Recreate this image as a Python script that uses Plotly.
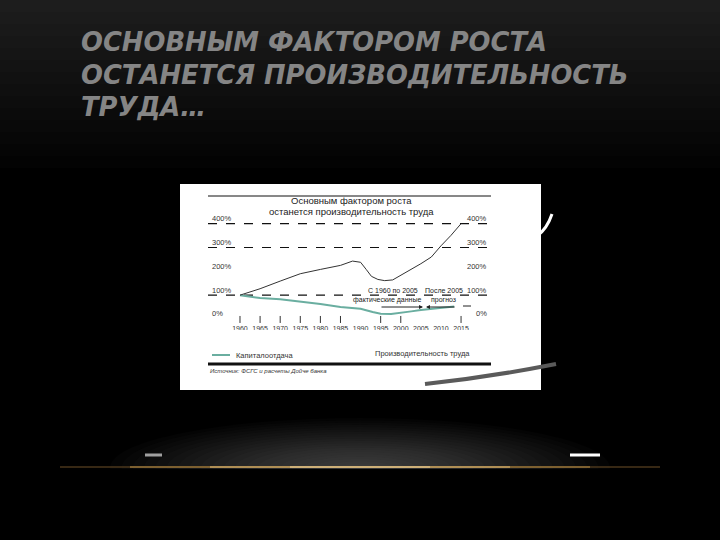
import plotly.graph_objects as go

# ---------------- data ----------------
slide_title = ["ОСНОВНЫМ ФАКТОРОМ РОСТА", "ОСТАНЕТСЯ ПРОИЗВОДИТЕЛЬНОСТЬ", "ТРУДА…"]
chart_title = ["Основным фактором роста", "останется производительность труда"]

year_labels = ["1960", "1965", "1970", "1975", "1980", "1985", "1990", "1995", "2000", "2005", "2010", "2015"]
tick_years = [1960, 1965, 1970, 1975, 1980, 1985, 1995, 2000, 2015]

prod_years = [1960, 1965, 1970, 1975, 1980, 1985, 1988, 1990, 1991.4, 1992.7, 1994.3, 1996, 1998,
              2000, 2002.6, 2005, 2007.6, 2010, 2012.5, 2015]
prod_vals = [100, 127, 159, 190, 208, 225, 243, 238, 208, 179, 166, 161, 164,
             183, 208, 232, 260, 307, 351, 400]

cap_years = [1960, 1965, 1970, 1975, 1980, 1985, 1990, 1993, 1995, 1997.6, 2000, 2002.6, 2005, 2010, 2013.3]
cap_vals = [100, 88, 83, 74, 63, 50, 43, 29, 22, 21, 25, 32, 38, 46, 52]

y_ticks = [400, 300, 200, 100, 0]
dashed_levels = [400, 300, 100]
series_names = ["Капиталоотдача", "Производительность труда"]
source_text = "Источник: ФСГС и расчеты Дойче банка"

# ---------------- geometry helpers ----------------
W, H = 720, 540
L, R, T, B = 208, 230, 215, 210
PW, PH = W - L - R, H - T - B


def px(x):
    return (x - L) / PW


def py(y):
    return (H - B - y) / PH


TEAL = "#6aaea0"
FONT = "Liberation Sans, Arial, sans-serif"

fig = go.Figure()

fig.add_trace(go.Scatter(x=cap_years, y=cap_vals, mode="lines", name=series_names[0],
                         line=dict(color=TEAL, width=2), showlegend=False))
fig.add_trace(go.Scatter(x=prod_years, y=prod_vals, mode="lines", name=series_names[1],
                         line=dict(color="#333333", width=1), showlegend=False))
# x tick marks
fig.add_trace(go.Scatter(x=tick_years, y=[-2] * len(tick_years), mode="markers",
                         marker=dict(symbol="line-ns", size=5, line=dict(color="#333", width=1)),
                         showlegend=False, hoverinfo="skip"))
# x tick labels
fig.add_trace(go.Scatter(x=[int(v) for v in year_labels], y=[-41] * len(year_labels), mode="text",
                         text=year_labels, textfont=dict(size=7, color="#333", family="Liberation Sans, Arial"),
                         showlegend=False, hoverinfo="skip"))

shapes = []
# background gradient at top
for k in range(1, 15):
    shapes.append(dict(type="rect", xref="paper", yref="paper", x0=px(0), x1=px(W),
                       y0=py(0), y1=py(12 * k), fillcolor="rgba(255,255,255,0.011)",
                       line=dict(width=0), layer="below"))
# glow near bottom (smooth, many faint ellipses)
n_glow = 22
for i in range(n_glow):
    f = 1 - i / n_glow
    rx, ry = 250 * f, 50 * f
    shapes.append(dict(type="circle", xref="paper", yref="paper",
                       x0=px(360 - rx), x1=px(360 + rx), y0=py(468 - ry), y1=py(468 + ry),
                       fillcolor="rgba(150,150,150,0.022)", line=dict(width=0), layer="below"))
shapes.append(dict(type="rect", xref="paper", yref="paper", x0=px(0), x1=px(W), y0=py(469), y1=py(H),
                   fillcolor="#000", line=dict(width=0), layer="below"))
# golden line
for x0, x1, c, w in [(60, 660, "rgba(110,80,40,0.5)", 2), (130, 590, "#7d6030", 2), (210, 510, "#b08f55", 2), (290, 430, "#d8bb85", 1.5)]:
    shapes.append(dict(type="line", xref="paper", yref="paper", x0=px(x0), x1=px(x1), y0=py(467), y1=py(467),
                       line=dict(color=c, width=w), layer="below"))
# small dashes
shapes.append(dict(type="line", xref="paper", yref="paper", x0=px(145), x1=px(162), y0=py(455), y1=py(455),
                   line=dict(color="#a0a0a0", width=3), layer="below"))
shapes.append(dict(type="line", xref="paper", yref="paper", x0=px(570), x1=px(600), y0=py(455), y1=py(455),
                   line=dict(color="#ffffff", width=3), layer="below"))
# white chart box
shapes.append(dict(type="rect", xref="paper", yref="paper", x0=px(180), x1=px(541), y0=py(184), y1=py(390),
                   fillcolor="#ffffff", line=dict(width=0), layer="below"))
# top thin rule and thick bottom rule
shapes.append(dict(type="line", xref="paper", yref="paper", x0=px(208), x1=px(491), y0=py(196), y1=py(196),
                   line=dict(color="#111", width=1)))
shapes.append(dict(type="line", xref="paper", yref="paper", x0=px(208), x1=px(491), y0=py(364), y1=py(364),
                   line=dict(color="#111", width=3)))
# dashed gridlines
for lv in dashed_levels:
    shapes.append(dict(type="line", xref="paper", yref="y", x0=0, x1=1, y0=lv, y1=lv,
                       line=dict(color="#111", width=1.2, dash="dash"), layer="below"))
# legend sample
shapes.append(dict(type="line", xref="paper", yref="paper", x0=px(212), x1=px(230), y0=py(355), y1=py(355),
                   line=dict(color=TEAL, width=2)))
# short dash after 2015
shapes.append(dict(type="line", xref="paper", yref="paper", x0=px(463), x1=px(471), y0=py(306), y1=py(306),
                   line=dict(color="#222", width=1)))
# decorative strokes
shapes.append(dict(type="path", xref="paper", yref="paper",
                   path=f"M {px(425)} {py(384)} Q {px(490)} {py(377)} {px(556)} {py(364)}",
                   line=dict(color="#5a5a5a", width=4)))
shapes.append(dict(type="path", xref="paper", yref="paper",
                   path=f"M {px(537)} {py(236)} Q {px(547)} {py(229)} {px(552)} {py(214)}",
                   line=dict(color="#ffffff", width=3)))

ann = []
# slide title
for i, t in enumerate(slide_title):
    ann.append(dict(text=f"<b><i>{t}</i></b>", xref="paper", yref="paper", x=px(79), y=py(42 + 32.5 * i),
                    xanchor="left", yanchor="middle", showarrow=False,
                    font=dict(family="DejaVu Sans, sans-serif", size=25.8, color="#858585")))
# chart title
for i, t in enumerate(chart_title):
    ann.append(dict(text=t, xref="paper", yref="paper", x=px(351), y=py(200 + 11 * i),
                    xanchor="center", yanchor="middle", showarrow=False,
                    font=dict(family=FONT, size=9.5, color="#222")))
# y tick labels both sides
for v in y_ticks:
    ann.append(dict(text=f"{v}%", xref="paper", yref="y", x=px(210), y=v, yshift=5,
                    xanchor="left", yanchor="middle", showarrow=False,
                    font=dict(family=FONT, size=7.5, color="#333")))
    ann.append(dict(text=f"{v}%", xref="paper", yref="y", x=px(489), y=v, yshift=5,
                    xanchor="right", yanchor="middle", showarrow=False,
                    font=dict(family=FONT, size=7.5, color="#333")))
# period annotations
for t, x, y in [("С 1960 по 2005", 393, 290.5), ("фактические данные", 387, 299.5),
                ("После 2005", 444, 290.5), ("прогноз", 443, 299.5)]:
    ann.append(dict(text=t, xref="paper", yref="paper", x=px(x), y=py(y), xanchor="center", yanchor="middle",
                    showarrow=False, font=dict(family=FONT, size=7, color="#222")))
# arrows
ann.append(dict(text="", xref="paper", yref="paper", x=px(423), y=py(307), axref="pixel", ayref="pixel",
                ax=-43, ay=0, showarrow=True, arrowhead=2, arrowsize=0.8, arrowwidth=1, arrowcolor="#222"))
ann.append(dict(text="", xref="paper", yref="paper", x=px(426), y=py(307), axref="pixel", ayref="pixel",
                ax=30, ay=0, showarrow=True, arrowhead=2, arrowsize=0.8, arrowwidth=1, arrowcolor="#222"))
# legend texts
ann.append(dict(text=series_names[0], xref="paper", yref="paper", x=px(234), y=py(355), xanchor="left",
                yanchor="middle", showarrow=False, font=dict(family=FONT, size=7.5, color="#333")))
ann.append(dict(text=series_names[1], xref="paper", yref="paper", x=px(373), y=py(353), xanchor="left",
                yanchor="middle", showarrow=False, font=dict(family=FONT, size=7.5, color="#333")))
# source
ann.append(dict(text=f"<i>{source_text}</i>", xref="paper", yref="paper", x=px(208), y=py(371), xanchor="left",
                yanchor="middle", showarrow=False, font=dict(family=FONT, size=6, color="#333")))

fig.update_layout(
    width=W, height=H,
    margin=dict(l=L, r=R, t=T, b=B, pad=0),
    paper_bgcolor="#000000", plot_bgcolor="rgba(0,0,0,0)",
    xaxis=dict(range=[1952.04, 2022.2], visible=False, fixedrange=True),
    yaxis=dict(range=[-46.2, 436.4], visible=False, fixedrange=True),
    shapes=shapes, annotations=ann, showlegend=False,
)

fig.write_html("out.html", config={"displayModeBar": False},
               post_script="document.body.style.margin='0px';document.body.style.background='#000';")
